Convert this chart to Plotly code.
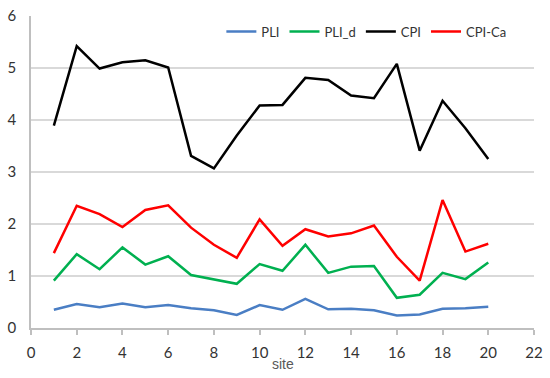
import plotly.graph_objects as go

sites = list(range(1, 21))
pli = [0.35, 0.46, 0.40, 0.47, 0.40, 0.44, 0.38, 0.34, 0.25, 0.44,
       0.35, 0.56, 0.36, 0.37, 0.34, 0.24, 0.26, 0.37, 0.38, 0.41]
pli_d = [0.91, 1.42, 1.13, 1.55, 1.22, 1.38, 1.02, 0.94, 0.85, 1.23,
         1.10, 1.60, 1.06, 1.18, 1.19, 0.58, 0.64, 1.06, 0.94, 1.26]
cpi = [3.89, 5.42, 4.99, 5.11, 5.15, 5.01, 3.31, 3.07, 3.70, 4.28,
       4.29, 4.81, 4.77, 4.47, 4.42, 5.08, 3.41, 4.37, 3.84, 3.25]
cpi_ca = [1.44, 2.35, 2.19, 1.94, 2.27, 2.36, 1.93, 1.60, 1.35, 2.09,
          1.58, 1.90, 1.76, 1.82, 1.97, 1.37, 0.91, 2.46, 1.47, 1.62]

series = [("PLI", pli, "#4A7EC4"), ("PLI_d", pli_d, "#00B050"),
          ("CPI", cpi, "#000000"), ("CPI-Ca", cpi_ca, "#FF0000")]

fig = go.Figure()
for name, vals, col in series:
    fig.add_trace(go.Scatter(x=sites, y=vals, mode="lines", name=name,
                             line=dict(color=col, width=2.5)))

tickfont = dict(family="Lato, Open Sans, sans-serif", size=15, color="#333333")
fig.update_layout(
    width=550, height=378,
    margin=dict(l=31, r=16, t=16, b=50),
    paper_bgcolor="white", plot_bgcolor="white",
    showlegend=True,
    legend=dict(orientation="h", x=0.955, xanchor="right", y=0.95, yanchor="middle",
                font=dict(family="Lato, Open Sans, sans-serif", size=13, color="#333333"),
                itemwidth=30, tracegroupgap=0, bgcolor="rgba(0,0,0,0)"),
    xaxis=dict(range=[0, 22], dtick=2, tick0=0, showgrid=False, zeroline=False,
               showline=True, linecolor="#BFBFBF", linewidth=1.5,
               ticks="outside", ticklen=5, tickcolor="#BFBFBF", tickwidth=1.5,
               tickfont=tickfont, automargin=False, ticklabelstandoff=5,
               ticklabeloverflow="allow"),
    yaxis=dict(range=[0, 6], dtick=1, showgrid=True, gridcolor="#D9D9D9", gridwidth=1.5,
               zeroline=False, showline=True, linecolor="#BFBFBF", linewidth=1.5,
               ticks="", tickfont=tickfont, automargin=False, ticklabelstandoff=10,
               ticklabeloverflow="allow"),
    annotations=[dict(text="site", xref="paper", yref="paper", x=0.5, y=0,
                      yshift=-36, xanchor="center", yanchor="middle", showarrow=False,
                      font=dict(family="Liberation Sans, Arial, sans-serif", size=14,
                                color="#595959"))],
)
fig.write_html("out.html", config={"displayModeBar": False},
               post_script="document.body.style.margin='0';document.body.style.padding='0';")
